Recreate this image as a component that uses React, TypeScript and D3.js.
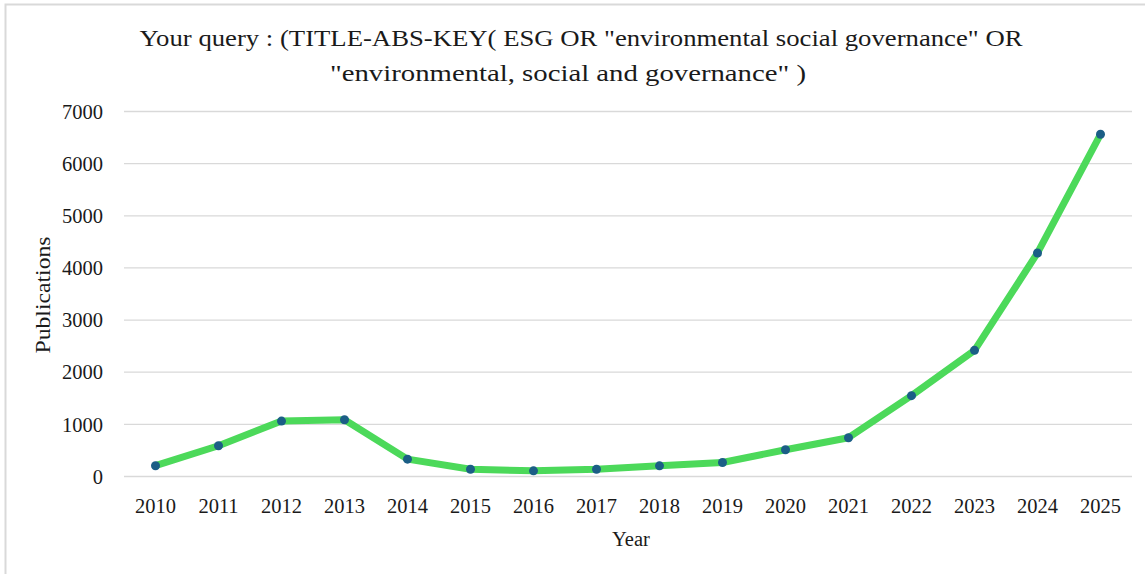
import React from "react";
import * as d3 from "d3";

const years = ["2010","2011","2012","2013","2014","2015","2016","2017","2018","2019","2020","2021","2022","2023","2024","2025"];
const publications = [207, 590, 1063, 1088, 333, 140, 108, 140, 204, 269, 512, 744, 1550, 2420, 4287, 6563];
const yTicks = [0, 1000, 2000, 3000, 4000, 5000, 6000, 7000];
const titleLines = [
  'Your query : (TITLE-ABS-KEY( ESG OR "environmental social governance" OR',
  '"environmental, social and governance" )',
];

const W = 1145, H = 574;
const left = 124, right = 1132, top = 111.5, bottom = 476.5;
const FONT = '"Liberation Serif", "Times New Roman", serif';

export default function App() {
  const x = d3.scalePoint<string>().domain(years).range([left, right]).padding(0.5);
  const y = d3.scaleLinear().domain([0, 7000]).range([bottom, top]);
  const data = years.map((yr, i) => ({ yr, v: publications[i] }));
  const line = d3.line<{ yr: string; v: number }>().x(d => x(d.yr)!).y(d => y(d.v));

  return (
    <svg width={W} height={H} style={{ position: "absolute", left: 0, top: 0, background: "#fff" }} fontFamily={FONT}>
      <rect x={0} y={0} width={W} height={H} fill="#fff" />
      <path d={`M5.5,${H + 5} V4.5 H${W + 5}`} fill="none" stroke="#d9d9d9" strokeWidth={2} />
      <text x={581} y={46} textAnchor="middle" fontSize={23} fill="#1a1a1a" textLength={883} lengthAdjust="spacingAndGlyphs">{titleLines[0]}</text>
      <text x={568} y={81} textAnchor="middle" fontSize={23} fill="#1a1a1a" textLength={476} lengthAdjust="spacingAndGlyphs">{titleLines[1]}</text>
      {yTicks.map(t => (
        <g key={t}>
          <line x1={left} x2={right} y1={y(t)} y2={y(t)} stroke="#d9d9d9" strokeWidth={1.3} />
          <text x={103} y={y(t)} dy="0.35em" textAnchor="end" fontSize={20.5} fill="#1a1a1a">{t}</text>
        </g>
      ))}
      {years.map(yr => (
        <text key={yr} x={x(yr)!} y={513} textAnchor="middle" fontSize={20.5} fill="#1a1a1a">{yr}</text>
      ))}
      <text x={631} y={546} textAnchor="middle" fontSize={20.5} fill="#1a1a1a">Year</text>
      <text transform="translate(50,295) rotate(-90)" textAnchor="middle" fontSize={20.5} fill="#1a1a1a" textLength={117} lengthAdjust="spacingAndGlyphs">Publications</text>
      <path d={line(data)!} fill="none" stroke="#4cd95a" strokeWidth={7} strokeLinejoin="round" strokeLinecap="round" />
      {data.map(d => (
        <circle key={d.yr} cx={x(d.yr)!} cy={y(d.v)} r={4.5} fill="#1b5e86" />
      ))}
    </svg>
  );
}
